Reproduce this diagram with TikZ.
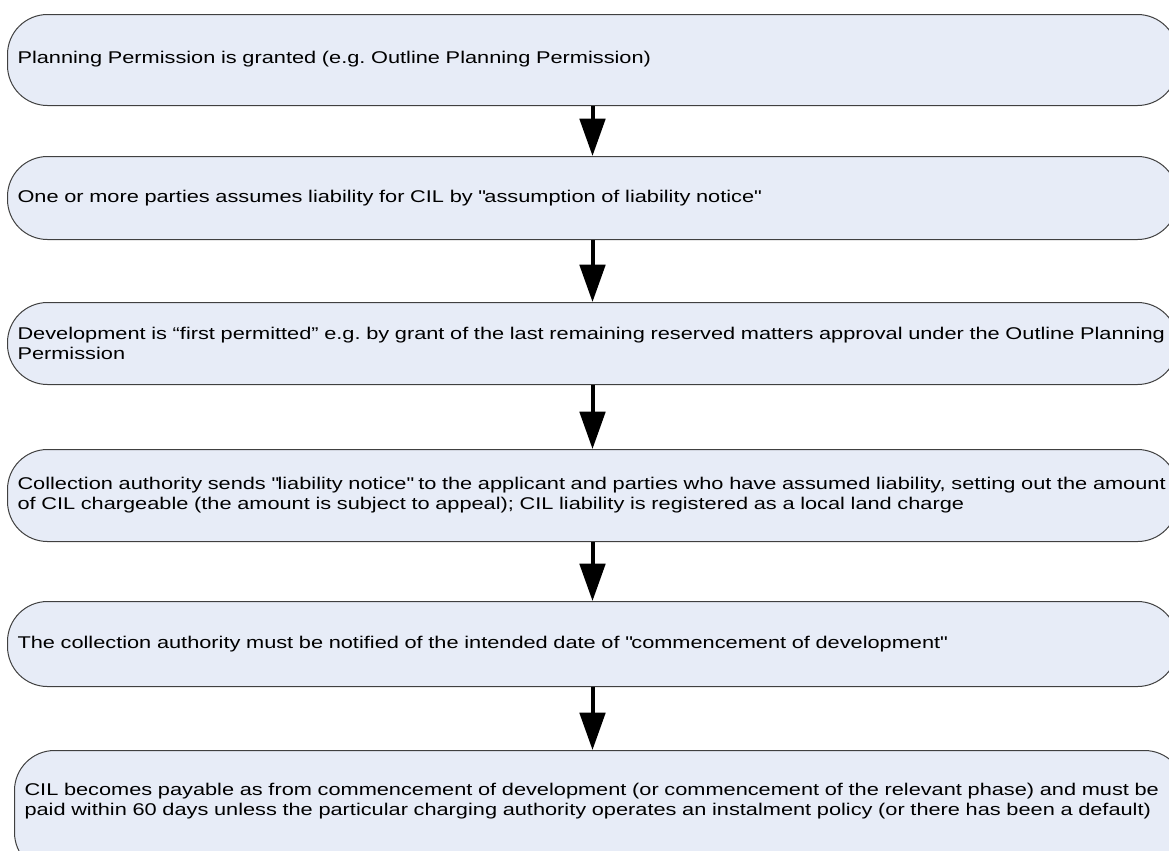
\documentclass[tikz,border=0pt]{standalone}
\usepackage{fontspec}
\setmainfont{Liberation Sans}[FakeStretch=1.28]
\usetikzlibrary{positioning,arrows.meta}
\definecolor{stagefill}{RGB}{231,236,247}
\definecolor{stageline}{RGB}{64,64,64}
\providecommand\mygapA{37.5pt}
\providecommand\mygapB{46.5pt}

\begin{document}
\frenchspacing
\begin{tikzpicture}[x=0.75pt, y=-0.75pt]
  \tikzstyle{stage} = [rectangle, draw=stageline, fill=stagefill, line width=0.75pt,
                       rounded corners=30pt, text width=862.5pt, align=left,
                       inner xsep=7.5pt, font=\fontsize{12.75}{15}\selectfont]
  \tikzstyle{flow} = [line width=3pt, -{Triangle[width=19pt, length=28pt]}]

\useasboundingbox (0,0) rectangle (1169,850);

\node[stage, anchor=north west, minimum height=68.25pt, text depth=4pt] (granted) at (7,14)
  {Planning Permission is granted (e.g. Outline Planning Permission)};
\node[stage, below=\mygapA of granted, minimum height=62.25pt] (assume)
  {One or more parties assumes liability for CIL by \textquotedbl assumption of liability notice\textquotedbl};
\node[stage, below=\mygapB of assume, minimum height=61.5pt] (permit)
  {Development is “first permitted” e.g. by grant of the last remaining reserved matters approval under the Outline Planning\\
   Permission};
\node[stage, below=48pt of permit, minimum height=69pt] (notice)
  {Collection authority sends \textquotedbl liability notice\textquotedbl{} to the applicant and parties who have assumed liability, setting out the amount\\
   of CIL chargeable (the amount is subject to appeal); CIL liability is registered as a local land charge};
\node[stage, below=44.25pt of notice, minimum height=63.75pt] (commence)
  {The collection authority must be notified of the intended date of \textquotedbl commencement of development\textquotedbl};
\node[stage, below=47.25pt of commence, xshift=5.25pt, minimum height=91.5pt,
      text depth=34pt] (payable)
  {CIL becomes payable as from commencement of development (or commencement of the relevant phase) and must be\\
   paid within 60 days unless the particular charging authority operates an instalment policy (or there has been a default)};

\draw[flow] (granted) -- (assume);
\draw[flow] (assume) -- (permit);
\draw[flow] (permit) -- (notice);
\draw[flow] (notice) -- (commence);
\draw[flow] (commence) -- (commence |- payable.north);
\end{tikzpicture}
\end{document}
